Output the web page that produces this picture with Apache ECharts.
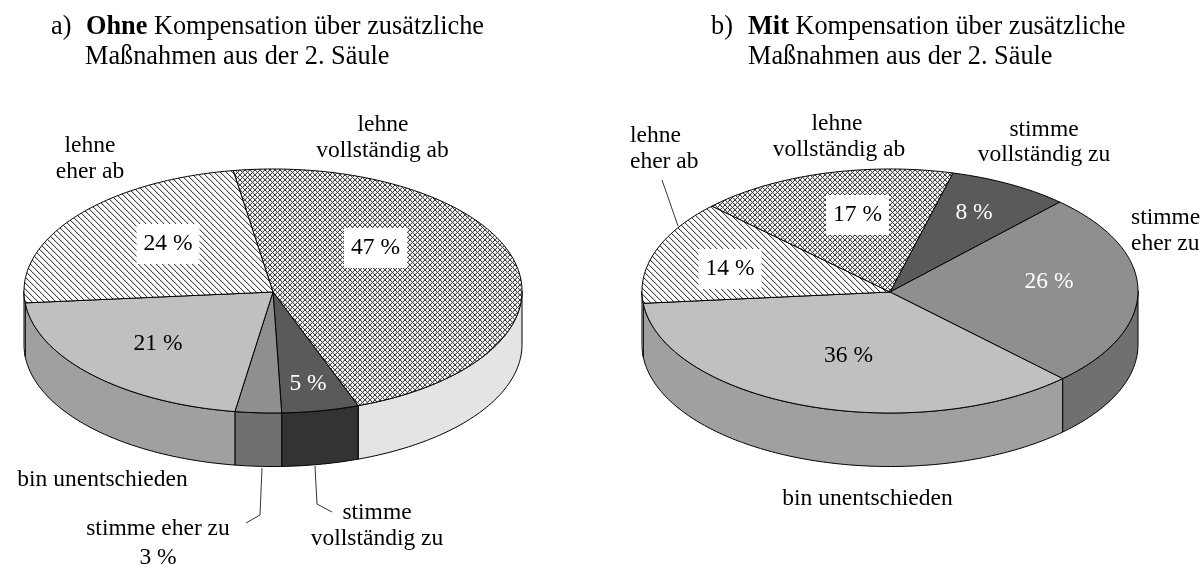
<!DOCTYPE html>
<html><head><meta charset="utf-8">
<style>html,body{margin:0;padding:0;background:#fff}#c{width:1203px;height:566px}</style>
<script src="https://cdn.jsdelivr.net/npm/echarts@6/dist/echarts.min.js"></script>
</head><body><div id="c"></div>
<script>
// ---- data ----
const categoriesA = ['lehne vollständig ab','stimme vollständig zu','stimme eher zu','bin unentschieden','lehne eher ab'];
const valuesA = [47,5,3,21,24];
const categoriesB = ['stimme vollständig zu','stimme eher zu','bin unentschieden','lehne eher ab','lehne vollständig ab'];
const valuesB = [8,26,36,14,17];
// ---- styling / layout ----
const FONT = '"Liberation Serif","Times New Roman",serif';
const FS = 23.5, TFS = 26.3;
const geoA = {cx:273,cy:291,rx:249,ry:122,h:53.5,start:-9.2};
const geoB = {cx:890,cy:291,rx:248,ry:122,h:53.5,start:14.7};
function tile(kind){
  const n=kind==='cross'?5:6,c=document.createElement('canvas');c.width=c.height=n;
  const g=c.getContext('2d');g.fillStyle='#fff';g.fillRect(0,0,n,n);
  g.fillStyle='#d4d4d4';
  for(let i=0;i<n;i++){g.fillRect((i+1)%n,i,1,1); if(kind==='cross')g.fillRect((2*n-2-i)%n,i,1,1);}
  g.fillStyle='#444';
  for(let i=0;i<n;i++){g.fillRect(i,i,1,1); if(kind==='cross')g.fillRect(n-1-i,i,1,1);}
  return c;
}
const hatch={image:tile('hatch'),repeat:'repeat'}, cross={image:tile('cross'),repeat:'repeat'};
const colors={
 'lehne vollständig ab':{top:cross,side:'#e4e4e4'},
 'lehne eher ab':{top:hatch,side:'#ffffff'},
 'bin unentschieden':{top:'#c0c0c0',side:'#a0a0a0'},
 'stimme eher zu':{top:'#8f8f8f',side:'#707070'},
 'stimme vollständig zu':{top:'#5a5a5a',side:'#333333'}
};
const rad=d=>d*Math.PI/180;
function pt(g,t,dy){return [g.cx+g.rx*Math.sin(rad(t)),g.cy-g.ry*Math.cos(rad(t))+(dy||0)];}
function arc(g,a,b,dy){const pts=[],n=Math.max(2,Math.ceil(Math.abs(b-a)));
  for(let i=0;i<=n;i++)pts.push(pt(g,a+(b-a)*i/n,dy));return pts;}
function sliceSpan(vals,g,i){const tot=vals.reduce((a,b)=>a+b,0);let s=0;for(let k=0;k<i;k++)s+=vals[k];
  return [g.start+s/tot*360,g.start+(s+vals[i])/tot*360];}
function renderer(vals,cats,g,pass){return function(params,api){
  const i=params.dataIndex,[a,b]=sliceSpan(vals,g,i),col=colors[cats[i]];
  const st=(fill)=>({fill,stroke:'#000',lineWidth:1,lineJoin:'round'});
  if(pass==='side'){
    const out=[];
    for(const off of [0,360]){
      const l=Math.max(a,90+off),h=Math.min(b,270+off);
      if(h>l){out.push({type:'polygon',shape:{points:arc(g,l,h,0).concat(arc(g,h,l,g.h))},style:st(col.side)});}}
    return {type:'group',children:out};
  }
  const pts=[[g.cx,g.cy+1]].concat(arc(g,a,b,0));
  return {type:'polygon',shape:{points:pts},style:st(col.top)};
};}
function pieSeries(name,vals,cats,g,pass,z){
  return {type:'custom',name,coordinateSystem:'none',z,silent:true,animation:false,clip:false,
    renderItem:renderer(vals,cats,g,pass),data:vals.map((v,i)=>({name:cats[i],value:[v]}))};
}
// text annotations
function txt(x,y,text,o){return {type:'text',silent:true,z:20,x,y,style:Object.assign({text,font:FS+'px '+FONT,fill:'#000',textAlign:'center',textVerticalAlign:'middle'},o||{})};}
function boxed(x,y,text,o){return txt(x,y,text,Object.assign({backgroundColor:'#fff',padding:[8,7,8,7]},o||{}));}
function leader(points){return {type:'polyline',silent:true,z:20,shape:{points},style:{stroke:'#000',lineWidth:0.8,fill:null}};}
const rich={b:{font:'bold '+TFS+'px '+FONT,fill:'#000'},n:{font:TFS+'px '+FONT,fill:'#000'}};
const left={textAlign:'left'}, tl={textAlign:'left',font:TFS+'px '+FONT};
const pct=v=>v+' %';
const graphic=[
 txt(51,27,'a)',tl),
 {type:'text',silent:true,z:20,x:86,y:27,style:{text:'{b|Ohne}{n| Kompensation über zusätzliche}',rich,textAlign:'left',textVerticalAlign:'middle'}},
 txt(85,57,'Maßnahmen aus der 2. Säule',tl),
 txt(711,27,'b)',tl),
 {type:'text',silent:true,z:20,x:748,y:27,style:{text:'{b|Mit}{n| Kompensation über zusätzliche}',rich,textAlign:'left',textVerticalAlign:'middle'}},
 txt(748,57,'Maßnahmen aus der 2. Säule',tl),
 // left pie category labels
 txt(90,146,'lehne'), txt(90,172,'eher ab'),
 txt(383,125,'lehne'), txt(382.5,151,'vollständig ab'),
 txt(102.5,480,'bin unentschieden'),
 txt(158,529,'stimme eher zu'), txt(158,558,pct(valuesA[2])),
 txt(377,513,'stimme'), txt(377,539,'vollständig zu'),
 // left pie value labels
 boxed(168,244,pct(valuesA[4])), boxed(375.5,248,pct(valuesA[0])),
 txt(158,344,pct(valuesA[3])), txt(308,384,pct(valuesA[1]),{fill:'#fff'}),
 // right pie category labels
 txt(630,136,'lehne',left), txt(630,162,'eher ab',left),
 txt(837,123.5,'lehne'), txt(839,149.5,'vollständig ab'),
 txt(1044,130,'stimme'), txt(1044,155,'vollständig zu'),
 txt(1131,218,'stimme',left), txt(1131,244,'eher zu',left),
 txt(867.5,499,'bin unentschieden'),
 // right pie value labels
 boxed(857.5,215,pct(valuesB[4])), boxed(730,269,pct(valuesB[3])),
 txt(974,213,pct(valuesB[0]),{fill:'#fff'}), txt(1049,282,pct(valuesB[1]),{fill:'#fff'}),
 txt(848.5,356,pct(valuesB[2])),
 // leader lines
 leader([[262,468],[260,515],[246,523]]),
 leader([[315,466],[317,504],[332,512]]),
 leader([[662,180],[678,226]])
];
const chart=echarts.init(document.getElementById('c'),null,{renderer:'canvas'});
chart.setOption({animation:false,backgroundColor:'#fff',graphic,series:[
 pieSeries('a side',valuesA,categoriesA,geoA,'side',2),
 pieSeries('a top',valuesA,categoriesA,geoA,'top',3),
 pieSeries('b side',valuesB,categoriesB,geoB,'side',2),
 pieSeries('b top',valuesB,categoriesB,geoB,'top',3)
]});
</script></body></html>
